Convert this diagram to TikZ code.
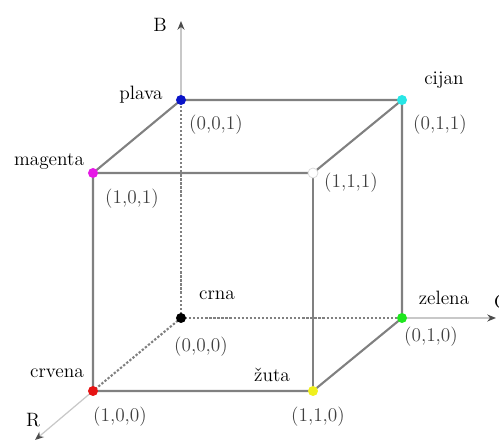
\documentclass[tikz,border=0pt]{standalone}
\usetikzlibrary{arrows.meta}

\definecolor{edgegray}{RGB}{128,128,128}
\definecolor{axisgray}{RGB}{200,200,200}
\definecolor{plavac}{RGB}{10,20,200}
\definecolor{magentac}{RGB}{230,25,230}
\definecolor{cijanc}{RGB}{40,230,230}
\definecolor{crvenac}{RGB}{230,20,20}
\definecolor{zutac}{RGB}{240,240,30}
\definecolor{zelenac}{RGB}{30,230,30}

\tikzset{
  cubeedge/.style={draw=edgegray, line width=1.2pt},
  hidden/.style={draw=edgegray, line width=1.2pt, dash pattern=on 1.3pt off 1pt},
  axisline/.style={draw=axisgray, line width=0.7pt, -{Stealth[length=5pt,width=4pt,black!70]}},
  colname/.style={font=\fontsize{11}{13}\selectfont, text=black},
  rgbcoord/.style={font=\fontsize{11}{13}\selectfont, text=black!75},
}

\begin{document}
\begin{tikzpicture}[scale=1]
  \useasboundingbox (-3.62,-2.5) rectangle (6.36,6.36);

  % Vertices of the cube
  \coordinate (O) at (0,0);
  \coordinate (G) at (4.42,0);
  \coordinate (B) at (0,4.36);
  \coordinate (R) at (-1.76,-1.46);
  \coordinate (Y) at (2.64,-1.46);
  \coordinate (M) at (-1.76,2.90);
  \coordinate (C) at (4.42,4.36);
  \coordinate (W) at (2.64,2.90);

  % Axis ends
  \coordinate (Bend) at (0,5.94);
  \coordinate (Gend) at (6.30,0);
  \coordinate (Rend) at (-2.92,-2.44);

  % Hidden edges
  \draw[hidden] (O) -- (B);
  \draw[hidden] (O) -- (G);
  \draw[hidden] (O) -- (R);

  % Axes
  \draw[axisline] (B) -- (Bend);
  \draw[axisline] (G) -- (Gend);
  \draw[axisline] (R) -- (Rend);

  % Visible edges
  \draw[cubeedge] (B) -- (C) -- (W) -- (M) -- cycle;
  \draw[cubeedge] (M) -- (R) -- (Y) -- (G) -- (C);
  \draw[cubeedge] (W) -- (Y);

  % Colour points
  \fill[black] (O) circle (0.1);
  \fill[plavac] (B) circle (0.1);
  \fill[cijanc] (C) circle (0.1);
  \fill[zelenac] (G) circle (0.1);
  \fill[magentac] (M) circle (0.1);
  \filldraw[fill=white, draw=black!15, line width=0.4pt] (W) circle (0.1);
  \fill[crvenac] (R) circle (0.1);
  \fill[zutac] (Y) circle (0.1);

  % Axis labels
  \node[colname] (labB) at (-0.42,5.86) {B};
  \node[colname, anchor=west] (labG) at (6.14,0.32) {G};
  \node[colname] (labR) at (-2.96,-2.04) {R};

  % Colour names
  \node[colname] (nplava) at (-0.80,4.46) {plava};
  \node[colname] (nmagenta) at (-2.64,3.12) {magenta};
  \node[colname] (ncijan) at (5.26,4.76) {cijan};
  \node[colname] (ncrna) at (0.72,0.46) {crna};
  \node[colname] (ncrvena) at (-2.48,-1.10) {crvena};
  \node[colname] (nzuta) at (1.82,-1.14) {žuta};
  \node[colname] (nzelena) at (5.26,0.40) {zelena};

  % Coordinates
  \node[rgbcoord] (c001) at (0.70,3.86) {(0,0,1)};
  \node[rgbcoord] (c101) at (-0.98,2.38) {(1,0,1)};
  \node[rgbcoord] (c011) at (5.18,3.86) {(0,1,1)};
  \node[rgbcoord] (c111) at (3.40,2.70) {(1,1,1)};
  \node[rgbcoord] (c000) at (0.40,-0.58) {(0,0,0)};
  \node[rgbcoord] (c100) at (-1.22,-1.98) {(1,0,0)};
  \node[rgbcoord] (c110) at (2.74,-1.98) {(1,1,0)};
  \node[rgbcoord] (c010) at (5.00,-0.38) {(0,1,0)};
\end{tikzpicture}
\end{document}
